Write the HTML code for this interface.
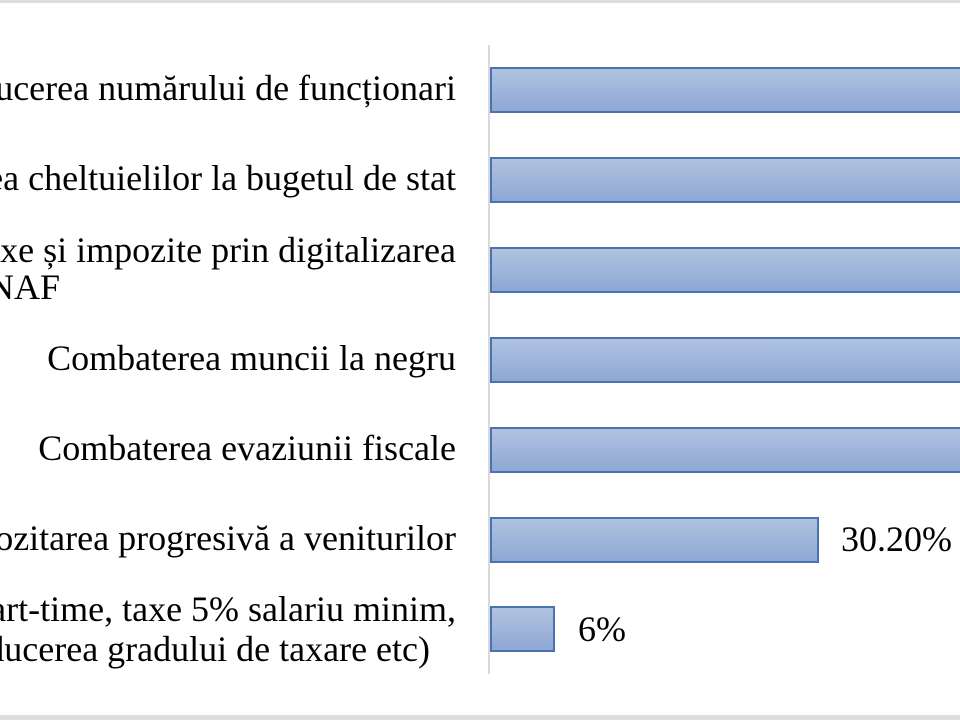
<!DOCTYPE html>
<html><head><meta charset="utf-8"><style>
body{margin:0;width:960px;height:720px;background:#fff;position:relative;overflow:hidden;font-family:"Liberation Serif",serif;}
.t{position:absolute;font-size:36px;color:#000;white-space:nowrap;line-height:1;}
.r{right:504px;}
.bar{position:absolute;left:490px;height:43px;border:2px solid #4a72b0;box-sizing:border-box;background:linear-gradient(#b0c2e0,#8ea8d4);}
</style></head><body>
<div style="position:absolute;left:0;top:0;width:960px;height:3px;background:#ddd"></div>
<div style="position:absolute;left:0;top:715px;width:960px;height:5px;background:#ddd"></div>
<div style="position:absolute;left:488px;top:45px;width:2px;height:629px;background:#d9d9d9"></div>

<div class="bar" style="top:67px;width:480px;height:46px"></div>
<div class="bar" style="top:157px;width:480px;height:46px"></div>
<div class="bar" style="top:247px;width:480px;height:46px"></div>
<div class="bar" style="top:337px;width:480px;height:46px"></div>
<div class="bar" style="top:427px;width:480px;height:46px"></div>
<div class="bar" style="top:517px;width:329px;height:46px"></div>
<div class="bar" style="top:606px;width:65px;height:46px"></div>

<div class="t r" style="top:70px">ucerea numărului de funcționari</div>
<div class="t r" style="top:160px">ea cheltuielilor la bugetul de stat</div>
<div class="t r" style="top:232px">xe și impozite prin digitalizarea</div>
<div class="t" style="left:-12px;top:269px">NAF</div>
<div class="t r" style="top:340px">Combaterea muncii la negru</div>
<div class="t r" style="top:430px">Combaterea evaziunii fiscale</div>
<div class="t r" style="top:520px">ozitarea progresivă a veniturilor</div>
<div class="t r" style="top:591px">art-time, taxe 5% salariu minim,</div>
<div class="t" style="right:530px;top:631px">ducerea gradului de taxare etc)</div>
<div class="t" style="left:841px;top:521px">30.20%</div>
<div class="t" style="left:578px;top:611px">6%</div>
</body></html>
